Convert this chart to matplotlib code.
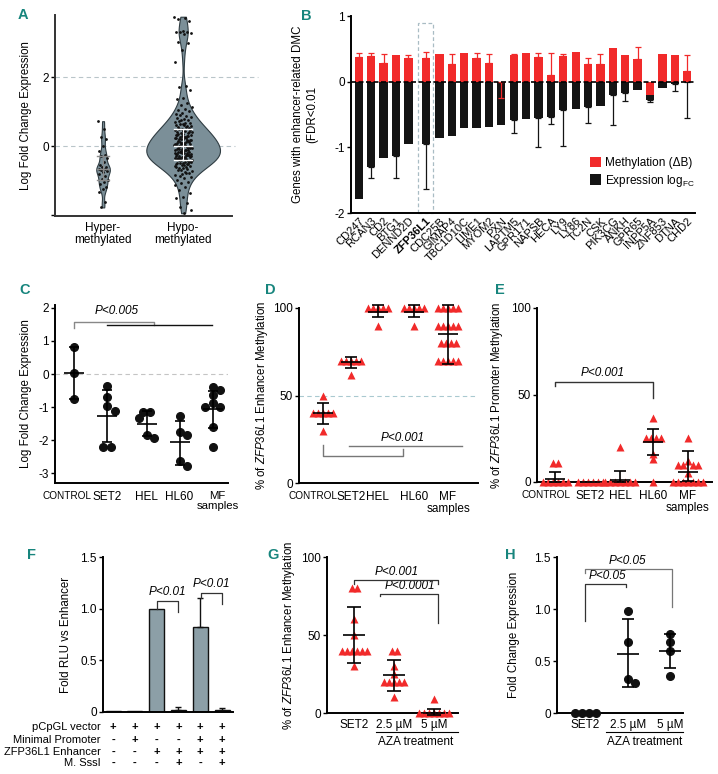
import numpy as np
import matplotlib
matplotlib.use("Agg")
import matplotlib.pyplot as plt
from matplotlib.patches import Rectangle
from matplotlib.transforms import ScaledTranslation

plt.rcParams['font.family'] = ['Liberation Sans', 'DejaVu Sans']
plt.rcParams['font.size'] = 8
plt.rcParams['axes.unicode_minus'] = False
plt.rcParams['mathtext.fontset'] = 'custom'
plt.rcParams['mathtext.rm'] = 'Liberation Sans'
plt.rcParams['mathtext.it'] = 'Liberation Sans:italic'
plt.rcParams['mathtext.bf'] = 'Liberation Sans:bold'

# ---------------- data ----------------
# A: log fold change of genes near hyper/hypo-methylated enhancers
hyper_lfc = [0.72, 0.48, 0.25, 0.2, 0.0, -0.15, -0.25, -0.3, -0.35, -0.45, -0.55, -0.6,
             -0.62, -0.66, -0.68, -0.7, -0.72, -0.75, -0.82, -0.88, -0.95, -1.0, -1.05,
             -1.1, -1.18, -1.25, -1.32, -1.62, -1.78]
hypo_lfc = [3.75, 3.72, 3.68, 3.62, 3.35, 3.32, 3.3, 3.3, 3.28, 3.26, 3.02, 2.98, 2.78, 2.45,
            1.75, 1.72, 1.62, 1.4, 1.36, 1.25, 1.2, 1.12, 1.08, 1.05,
            1.02, 0.96, 0.93, 0.88, 0.91, 0.84, 0.79, 0.82, 0.76,
            0.74, 0.71, 0.68, 0.72, 0.66, 0.63, 0.61, 0.58, 0.64, 0.57, 0.6,
            0.54, 0.52, 0.49, 0.47, 0.55, 0.5, 0.46, 0.44, 0.42, 0.39, 0.37, 0.41, 0.43, 0.36, 0.4,
            0.34, 0.32, 0.29, 0.27, 0.31, 0.26, 0.33, 0.28, 0.3,
            0.24, 0.22, 0.19, 0.17, 0.21, 0.23, 0.16, 0.2, 0.18, 0.25,
            0.14, 0.12, 0.09, 0.07, 0.11, 0.13, 0.06, 0.1, 0.08, 0.15, 0.05,
            0.04, 0.02, -0.01, -0.03, 0.01, 0.03, -0.04, 0.0, -0.02, 0.045, -0.05,
            -0.06, -0.08, -0.11, -0.13, -0.09, -0.07, -0.14, -0.1, -0.12, -0.15, -0.065, -0.115,
            -0.16, -0.18, -0.21, -0.23, -0.19, -0.17, -0.24, -0.2, -0.22, -0.25, -0.165, -0.215,
            -0.26, -0.28, -0.31, -0.33, -0.29, -0.27, -0.34, -0.3, -0.32, -0.35, -0.265, -0.315,
            -0.36, -0.38, -0.41, -0.43, -0.39, -0.37, -0.44, -0.4, -0.42, -0.45, -0.365,
            -0.46, -0.48, -0.51, -0.53, -0.49, -0.47, -0.54, -0.5, -0.52,
            -0.56, -0.58, -0.61, -0.63, -0.59, -0.64, -0.6,
            -0.66, -0.69, -0.72, -0.74, -0.7, -0.77, -0.8, -0.83, -0.79,
            -0.87, -0.91, -0.94, -0.98, -1.03, -1.08, -1.12, -1.19, -1.28,
            -1.37, -1.47, -1.52, -1.66, -1.76, -1.85, -1.95]

# B: genes with enhancer-related DMC
genes = ['CD247', 'RCAN3', 'CD2', 'BTG1', 'DENND2D', 'ZFP36L1', 'CDC25B', 'GIMAP4',
         'TBC1D10C', 'LIME1', 'MYOM2', 'PXN', 'LAPTM5', 'GPR171', 'NAPSB', 'HECA', 'LY9',
         'LY86', 'TC2N', 'CSK', 'PIK3CG', 'ANKH', 'GPR65', 'INPP5A', 'ZNF853', 'DTNA', 'CHD2']
meth = [0.37, 0.39, 0.29, 0.40, 0.36, 0.36, 0.42, 0.27, 0.44, 0.36, 0.28, -0.01, 0.40, 0.44,
        0.38, 0.10, 0.39, 0.45, 0.27, 0.27, 0.52, 0.40, 0.35, -0.20, 0.42, 0.41, 0.16]
meth_err = [0.07, 0.05, 0.13, 0.0, 0.05, 0.09, 0.0, 0.15, 0.0, 0.07, 0.14, 0.24, 0.02, 0.0,
            0.06, 0.33, 0.03, 0.0, 0.09, 0.15, 0.0, 0.0, 0.18, 0.0, 0.0, 0.0, 0.25]
expr = [-1.78, -1.30, -1.17, -1.13, -0.95, -0.95, -0.86, -0.82, -0.71, -0.70, -0.69, -0.66,
        -0.58, -0.57, -0.56, -0.54, -0.43, -0.42, -0.38, -0.37, -0.20, -0.18, -0.13, -0.28,
        -0.09, -0.03, -0.01]
expr_err = [0.0, 0.16, 0.0, 0.34, 0.0, 0.69, 0.0, 0.0, 0.0, 0.0, 0.0, 0.0, 0.20, 0.0, 0.43,
            0.11, 0.55, 0.0, 0.25, 0.0, 0.46, 0.11, 0.0, 0.03, 0.0, 0.11, 0.54]

# C-E: cell lines / samples
groups_cde = ['CONTROL', 'SET2', 'HEL', 'HL60', 'MF\nsamples']
c_vals = [[0.81, 0.03, -0.77],
          [-0.36, -0.70, -0.96, -1.12, -2.2, -2.2],
          [-1.14, -1.14, -1.34, -1.85, -1.95],
          [-1.27, -1.77, -1.85, -2.64, -2.78],
          [-0.38, -0.48, -0.63, -0.88, -1.0, -1.0, -1.6, -2.2]]
c_mean = [0.02, -1.26, -1.5, -2.07, -1.07]
c_lo = [-0.77, -2.05, -1.87, -2.74, -1.64]
c_hi = [0.82, -0.48, -1.12, -1.42, -0.5]

d_vals = [[50, 40, 40, 40, 40, 40, 30],
          [70, 70, 70, 70, 70, 62],
          [100, 100, 100, 100, 100, 90],
          [100, 100, 100, 100, 100, 90],
          [100] * 5 + [90] * 5 + [80] * 4 + [70] * 5]
d_mean = [40, 69, 98, 98, 85]
d_lo = [34, 66, 95, 95, 68]
d_hi = [46, 72, 102, 102, 102]

e_vals = [[11, 11, 0, 0, 0, 0, 0, 0],
          [0, 0, 0, 0, 0, 0],
          [20, 0, 0, 0, 0, 0, 0, 0],
          [37, 25, 25, 25, 25, 16, 13, 0],
          [25, 12, 10, 10, 10, 10, 5, 0, 0, 0, 0, 0, 0, 0]]
e_mean = [1.5, 0, 1.3, 23, 5.6]
e_lo = [0, 0, 0, 15.5, 0.5]
e_hi = [5.5, 0, 6.1, 30.6, 17.6]

# F: luciferase reporter
rlu = [0.01, 0.01, 1.0, 0.02, 0.82, 0.02]
rlu_err = [0.0, 0.0, 0.0, 0.03, 0.28, 0.02]
f_rows = ['pCpGL vector', 'Minimal Promoter', 'ZFP36L1 Enhancer', 'M. SssI']
f_signs = [['+', '+', '+', '+', '+', '+'],
           ['-', '+', '-', '-', '+', '+'],
           ['-', '-', '+', '+', '+', '+'],
           ['-', '-', '-', '+', '-', '+']]

# G-H: AZA treatment
groups_gh = ['SET2', '2.5 µM', '5 µM']
g_vals = [[80, 80, 60, 50, 40, 40, 40, 40, 40, 40, 30],
          [40, 40, 30, 25, 20, 20, 20, 20, 20, 10],
          [9, 0, 0, 0, 0, 0, 0, 0]]
g_mean = [50, 24.5, 0]
g_lo = [32, 14, -1]
g_hi = [68, 34, 2.5]

h_vals = [[0, 0, 0, 0],
          [0.98, 0.68, 0.33, 0.29],
          [0.76, 0.68, 0.6, 0.36]]
h_mean = [0, 0.57, 0.6]
h_lo = [0, 0.25, 0.43]
h_hi = [0, 0.9, 0.76]

# ---------------- helpers ----------------
W, H = 718, 774
fig = plt.figure(figsize=(W / 100, H / 100), dpi=100)
TEAL = '#17857d'
RED = '#f12a2a'
GREY_BAR = '#8c9fa7'


def rect(l, t, r, b):
    return [l / W, 1 - b / H, (r - l) / W, (b - t) / H]


def clean(ax, lw=1.4, xpad=4):
    for s in ['top', 'right']:
        ax.spines[s].set_visible(False)
    for s in ['left', 'bottom']:
        ax.spines[s].set_linewidth(lw)
    ax.tick_params(axis='y', length=3, width=1, labelsize=8.5, pad=1.5)
    ax.tick_params(axis='x', length=0, labelsize=8.5, pad=xpad)


def px_scale(ax):
    T = ax.transData
    o = T.transform((0, 0))
    e = T.transform((1, 1))
    return e[0] - o[0], e[1] - o[1]


def swarm(ax, xc, vals, d):
    sx, sy = px_scale(ax)
    vals = np.asarray(vals, float)
    ys = vals * sy
    offs = np.zeros(len(vals))
    placed = []
    for i in np.argsort(-ys, kind='stable'):
        c = 0.0
        for k in range(60):
            c = ((k + 1) // 2) * d * (1 if k % 2 else -1)
            if all((c - px) ** 2 + (ys[i] - py) ** 2 >= (0.999 * d) ** 2 for px, py in placed):
                break
        offs[i] = c
        placed.append((c, ys[i]))
    for v in np.unique(vals):
        m = vals == v
        if m.sum() > 1:
            offs[m] -= offs[m].mean()
    return xc + offs / sx


def meansd(ax, xc, mean, lo, hi, mw=9, cw=5, lw=1.2):
    sx, _ = px_scale(ax)
    kw = dict(color='k', lw=lw, zorder=5, clip_on=False, solid_capstyle='butt')
    ax.plot([xc - mw / sx, xc + mw / sx], [mean, mean], **kw)
    if hi > lo:
        ax.plot([xc, xc], [lo, hi], **kw)
        ax.plot([xc - cw / sx, xc + cw / sx], [lo, lo], **kw)
        ax.plot([xc - cw / sx, xc + cw / sx], [hi, hi], **kw)


def line(ax, xs, ys, color='#555555', lw=1.0):
    ax.plot(xs, ys, color=color, lw=lw, clip_on=False, zorder=6)


def ylab(ax, text, px, l, r, size=8.3):
    ax.set_ylabel(text, fontsize=size)
    ax.yaxis.set_label_coords((px - l) / (r - l), 0.5)


def shift_label(lab, dx_px):
    lab.set_transform(lab.get_transform() + ScaledTranslation(dx_px / 100, 0, fig.dpi_scale_trans))


def letter(x, y, s):
    fig.text(x / W, 1 - y / H, s, color=TEAL, fontsize=10.5, fontweight='bold',
             ha='left', va='center')


# ---------------- A ----------------
axA = fig.add_axes(rect(55, 15, 232, 216))
clean(axA)
axA.spines['left'].set_color('#333333')
axA.spines['bottom'].set_color('#333333')
axA.set_xlim(-0.6, 1.61)
axA.set_ylim(-2.03, 3.8)
vp = axA.violinplot([hyper_lfc, hypo_lfc], positions=[0, 1], widths=[0.17, 0.92],
                    showextrema=False, bw_method=0.22)
for b in vp['bodies']:
    b.set_facecolor('#7b8f98')
    b.set_edgecolor('#2f3c42')
    b.set_linewidth(0.8)
    b.set_alpha(1)
golden = 0.6180339887
for pos, vals, spread in [(0, hyper_lfc, 0.06), (1, hypo_lfc, 0.11)]:
    n = len(vals)
    offs = np.array([((i * golden) % 1.0 - 0.5) * 2 * spread for i in range(n)])
    axA.scatter(pos + offs, vals, s=4, color='#111111', zorder=3, linewidths=0)
for pos, vals, col, w in [(0, hyper_lfc, '#8a8a8a', 0.07), (1, hypo_lfc, 'white', 0.11)]:
    q1, med, q3 = np.percentile(vals, [25, 50, 75])
    axA.plot([pos, pos], [q1, q3], color=col, lw=0.8, zorder=4)
    for q in (q1, med, q3):
        axA.plot([pos - w, pos + w], [q, q], color=col, lw=1.0, zorder=4)
axA.plot([-0.6, 1.94], [2, 2], ls=(0, (4, 3)), color='#b9c5c9', lw=0.8, clip_on=False, zorder=0)
axA.plot([-0.6, 1.65], [0, 0], ls=(0, (4, 3)), color='#b9c5c9', lw=0.8, clip_on=False, zorder=0)
axA.set_yticks([-2, 0, 2])
axA.set_yticklabels(['', '0', '2'])
axA.set_xticks([0, 1])
axA.set_xticklabels(['Hyper-\nmethylated', 'Hypo-\nmethylated'], fontsize=8.5, linespacing=1.1)
ylab(axA, 'Log Fold Change Expression', 32, 55, 232)

# ---------------- B ----------------
axB = fig.add_axes(rect(351, 16, 695, 213))
clean(axB)
idx = np.arange(len(genes))
xb = idx + 0.4 * (idx >= 5) + 0.1 * (idx >= 6)
axB.set_xlim(xb[0] - 0.63, xb[-1] + 0.63)
axB.set_ylim(-2, 1)
bw = 0.67
expr_a = np.array(expr)
eerr = np.array(expr_err)
meth_a = np.array(meth)
merr = np.array(meth_err)
axB.bar(xb, expr_a, width=bw, color='#141414', zorder=2, label='Expression log$_{\\mathrm{FC}}$')
m = eerr > 0
axB.errorbar(xb[m], expr_a[m], yerr=[eerr[m], np.zeros(m.sum())], fmt='none',
             ecolor='#141414', elinewidth=0.9, capsize=2, capthick=0.9, zorder=2.5)
axB.bar(xb, meth_a, width=bw, color=RED, zorder=3, label='Methylation (ΔB)')
m = merr > 0
lo = np.where(meth_a[m] < 0, merr[m], 0)
hi = np.where(meth_a[m] >= 0, merr[m], 0)
axB.errorbar(xb[m], meth_a[m], yerr=[lo, hi], fmt='none', ecolor=RED, elinewidth=0.9,
             capsize=2, capthick=0.9, zorder=3.5)
axB.axhline(0, color='k', lw=1.2, ls=(0, (3, 1.5)), zorder=4)
zi = genes.index('ZFP36L1')
axB.add_patch(Rectangle((xb[zi] - 0.62, -2), 1.24, 2.9, fill=False, ec='#a9bcc4',
                        lw=0.9, ls=(0, (3, 2)), zorder=1, clip_on=False))
axB.set_yticks([-2, -1, 0, 1])
axB.set_xticks(xb)
axB.set_xticklabels(genes, rotation=45, ha='right', rotation_mode='anchor', fontsize=8)
axB.tick_params(axis='x', pad=2)
axB.get_xticklabels()[zi].set_fontweight('bold')
h, l = axB.get_legend_handles_labels()
axB.legend(h[::-1], l[::-1], loc='upper left', bbox_to_anchor=(0.68, 0.31), frameon=False,
           fontsize=8.5, handlelength=1.0, handleheight=1.0, handletextpad=0.3, labelspacing=0.3,
           borderaxespad=0)
ylab(axB, 'Genes with enhancer-related DMC\n(FDR<0.01', 318, 351, 695)

# ---------------- C ----------------
axC = fig.add_axes(rect(55, 305, 228, 483))
clean(axC, xpad=6)
posC = [0, 1, 2.2, 3.2, 4.2]
axC.set_xlim(-0.58, 4.67)
axC.set_ylim(-3.3, 2.09)
axC.plot([-0.58, 4.67], [0, 0], ls=(0, (4, 3)), color='#c4c4c4', lw=0.8, zorder=0)
for p, vals, mu, lo_, hi_ in zip(posC, c_vals, c_mean, c_lo, c_hi):
    axC.plot(swarm(axC, p, vals, 7.5), vals, 'o', ms=5.5, color='#111111', zorder=4,
             clip_on=False)
    meansd(axC, p, mu, lo_, hi_, mw=10, cw=5)
line(axC, [0, 0, 2.42, 2.42], [1.40, 1.57, 1.57, 1.48], color='#888888')
line(axC, [1.0, 4.18], [1.47, 1.47], color='#111111')
axC.text(1.3, 1.72, 'P<0.005', fontstyle='italic', fontsize=8.5, ha='center', va='bottom')
axC.set_yticks([-3, -2, -1, 0, 1, 2])
axC.set_xticks(posC)
axC.set_xticklabels(groups_cde, linespacing=1.0, va='top')
axC.get_xticklabels()[0].set_fontsize(7.2)
shift_label(axC.get_xticklabels()[0], -7)
axC.get_xticklabels()[4].set_fontsize(8.2)
shift_label(axC.get_xticklabels()[4], 5)
ylab(axC, 'Log Fold Change Expression', 32, 55, 228)

# ---------------- D ----------------
axD = fig.add_axes(rect(299, 308, 478, 483))
clean(axD, xpad=6)
posD = [0, 0.93, 1.83, 3.03, 4.17]
axD.set_xlim(-0.8, 5.17)
axD.set_ylim(0, 100)
axD.plot([-0.8, 5.17], [50, 50], ls=(0, (4, 3)), color='#a9c9d0', lw=0.8, zorder=0)
for p, vals, mu, lo_, hi_ in zip(posD, d_vals, d_mean, d_lo, d_hi):
    axD.plot(swarm(axD, p, vals, 5.0), vals, '^', ms=6, color=RED, mec='none', zorder=4,
             clip_on=False)
    meansd(axD, p, mu, lo_, hi_, mw=10, cw=6)
line(axD, [0.87, 4.63], [21, 21], color='#777777')
line(axD, [0, 0, 2.67, 2.67], [22, 15.3, 15.3, 19.5], color='#777777')
axD.text(2.67, 22.2, 'P<0.001', fontstyle='italic', fontsize=8.5, ha='center', va='bottom')
axD.set_yticks([0, 50, 100])
axD.set_xticks(posD)
axD.set_xticklabels(groups_cde, linespacing=1.0, va='top')
axD.get_xticklabels()[0].set_fontsize(7.2)
shift_label(axD.get_xticklabels()[0], -10)
ylab(axD, '% of $\\it{ZFP36L1}$ Enhancer Methylation', 270, 299, 478)

# ---------------- E ----------------
axE = fig.add_axes(rect(537, 308, 712, 482))
clean(axE, xpad=6)
posE = [0, 1.06, 1.97, 2.97, 4.03]
axE.set_xlim(-0.55, 4.76)
axE.set_ylim(0, 100)
for p, vals, mu, lo_, hi_ in zip(posE, e_vals, e_mean, e_lo, e_hi):
    axE.plot(swarm(axE, p, vals, 5.0), vals, '^', ms=6, color=RED, mec='none', zorder=4,
             clip_on=False)
    meansd(axE, p, mu, lo_, hi_, mw=10, cw=6)
line(axE, [0, 0, 2.97, 2.97], [55.4, 57.3, 57.3, 48.3], color='#333333')
axE.text(1.45, 59, 'P<0.001', fontstyle='italic', fontsize=8.5, ha='center', va='bottom')
axE.set_yticks([0, 50, 100])
axE.set_xticks(posE)
axE.set_xticklabels(groups_cde, linespacing=1.0, va='top')
axE.get_xticklabels()[0].set_fontsize(7.2)
shift_label(axE.get_xticklabels()[0], -9)
ylab(axE, '% of $\\it{ZFP36L1}$ Promoter Methylation', 505, 537, 712)

# ---------------- F ----------------
axF = fig.add_axes(rect(103, 557, 233, 712))
clean(axF)
xf = np.arange(len(rlu))
axF.set_xlim(-0.46, 5.5)
axF.set_ylim(0, 1.5)
axF.bar(xf, rlu, width=0.69, color=GREY_BAR, edgecolor='#111111', lw=1.0, zorder=2)
ferr = np.array(rlu_err)
m = ferr > 0
axF.errorbar(xf[m], np.array(rlu)[m], yerr=[np.zeros(m.sum()), ferr[m]], fmt='none',
             ecolor='#111111', elinewidth=1.0, capsize=2.5, capthick=1.0, zorder=3)
line(axF, [2, 2, 3, 3], [1.0, 1.07, 1.07, 0.97], color='#333333', lw=0.9)
axF.text(2.5, 1.1, 'P<0.01', fontstyle='italic', fontsize=8.5, ha='center', va='bottom')
line(axF, [4.04, 4.04, 5, 5], [1.10, 1.15, 1.15, 1.05], color='#333333', lw=0.9)
axF.text(4.5, 1.18, 'P<0.01', fontstyle='italic', fontsize=8.5, ha='center', va='bottom')
axF.set_yticks([0, 0.5, 1.0, 1.5])
axF.set_yticklabels(['0', '0.5', '1.0', '1.5'])
axF.set_xticks([])
row_y = [-0.095, -0.178, -0.258, -0.327]
for ry, name, signs in zip(row_y, f_rows, f_signs):
    axF.text(-0.02, ry, name, transform=axF.transAxes, ha='right', va='center', fontsize=8)
    for xi, s in zip(xf, signs):
        axF.text(xi, ry, s, transform=axF.get_xaxis_transform(), ha='center', va='center',
                 fontsize=8, fontweight='bold')
ylab(axF, 'Fold RLU vs Enhancer', 72, 103, 233)

# ---------------- G ----------------
axG = fig.add_axes(rect(327, 557, 458, 713))
clean(axG)
posG = [0, 1, 2]
axG.set_xlim(-0.68, 2.6)
axG.set_ylim(0, 100)
for p, vals, mu, lo_, hi_ in zip(posG, g_vals, g_mean, g_lo, g_hi):
    axG.plot(swarm(axG, p, vals, 5.0), vals, '^', ms=6, color=RED, mec='none', zorder=4,
             clip_on=False)
    meansd(axG, p, mu, lo_, hi_, mw=11, cw=7)
line(axG, [0, 0, 2.1, 2.1], [82.5, 85, 85, 83], color='#333333', lw=0.9)
axG.text(1.07, 86.5, 'P<0.001', fontstyle='italic', fontsize=8.5, ha='center', va='bottom')
line(axG, [0.65, 0.65, 2.1, 2.1], [75, 76.6, 76.6, 57.4], color='#333333', lw=0.9)
axG.text(1.4, 77.8, 'P<0.0001', fontstyle='italic', fontsize=8.5, ha='center', va='bottom')
axG.set_yticks([0, 50, 100])
axG.set_xticks(posG)
axG.set_xticklabels(groups_gh)
axG.plot([0.55, 2.6], [-0.12, -0.12], transform=axG.get_xaxis_transform(), color='k',
         lw=0.8, clip_on=False)
axG.text(1.55, -0.15, 'AZA treatment', transform=axG.get_xaxis_transform(), ha='center',
         va='top', fontsize=8.5)
ylab(axG, '% of $\\it{ZFP36L1}$ Enhancer Methylation', 297, 327, 458)

# ---------------- H ----------------
axH = fig.add_axes(rect(557, 557, 683, 713))
clean(axH)
posH = [0, 1, 2]
axH.set_xlim(-0.66, 2.3)
axH.set_ylim(0, 1.5)
for p, vals, mu, lo_, hi_ in zip(posH, h_vals, h_mean, h_lo, h_hi):
    axH.plot(swarm(axH, p, vals, 7.0), vals, 'o', ms=5.5, color='#111111', zorder=4,
             clip_on=False)
    if hi_ > lo_:
        meansd(axH, p, mu, lo_, hi_, mw=11, cw=6)
line(axH, [0, 0, 2.05, 2.05], [1.35, 1.38, 1.38, 1.02], color='#777777', lw=0.9)
axH.text(1.0, 1.40, 'P<0.05', fontstyle='italic', fontsize=8.5, ha='center', va='bottom')
line(axH, [0, 0, 0.96, 0.96], [0.88, 1.24, 1.24, 1.21], color='#333333', lw=0.9)
axH.text(0.52, 1.26, 'P<0.05', fontstyle='italic', fontsize=8.5, ha='center', va='bottom')
axH.set_yticks([0, 0.5, 1.0, 1.5])
axH.set_yticklabels(['0', '0.5', '1.0', '1.5'])
axH.set_xticks(posH)
axH.set_xticklabels(groups_gh)
axH.plot([0.5, 2.3], [-0.12, -0.12], transform=axH.get_xaxis_transform(), color='k',
         lw=0.8, clip_on=False)
axH.text(1.4, -0.15, 'AZA treatment', transform=axH.get_xaxis_transform(), ha='center',
         va='top', fontsize=8.5)
ylab(axH, 'Fold Change Expression', 520, 557, 683)

# panel letters
for x, y, s in [(18, 15, 'A'), (301, 16, 'B'), (19, 290, 'C'), (265, 290, 'D'),
                (495, 290, 'E'), (27, 555, 'F'), (267, 555, 'G'), (505, 555, 'H')]:
    letter(x, y, s)

fig.savefig('out.png', dpi=100)
